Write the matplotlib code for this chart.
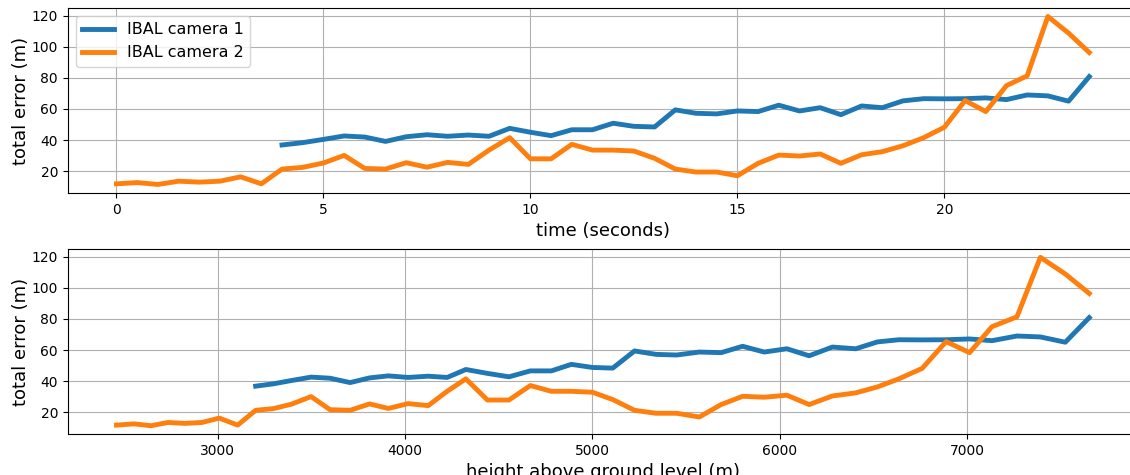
import matplotlib
matplotlib.use('Agg')
import matplotlib.pyplot as plt

# time stamps (s) and height above ground (m) for each frame
time_s = [i * 0.5 for i in range(48)]
height_m = [2460, 2553, 2644, 2735, 2826, 2917, 3009, 3107, 3203, 3298,
            3393, 3499, 3600, 3707, 3811, 3911, 4017, 4124, 4225, 4325,
            4440, 4555, 4669, 4781, 4888, 5000, 5109, 5225, 5340, 5450,
            5571, 5687, 5802, 5917, 6038, 6157, 6281, 6406, 6521, 6636,
            6760, 6888, 7013, 7133, 7266, 7391, 7524, 7652]

# camera 1 only starts at t = 4 s (frame 8)
cam1_start = 8
cam1_err = [36.8, 38.3, 40.4, 42.6, 41.9, 39.1, 42.1, 43.4, 42.4, 43.2,
            42.4, 47.5, 45.0, 42.8, 46.6, 46.6, 50.8, 48.8, 48.4, 59.4,
            57.2, 56.8, 58.7, 58.3, 62.4, 58.7, 60.8, 56.3, 61.9, 60.8,
            65.2, 66.6, 66.5, 66.6, 67.1, 66.0, 69.0, 68.4, 65.0, 80.8]
cam2_err = [11.8, 12.6, 11.4, 13.5, 12.9, 13.5, 16.3, 11.8, 21.3, 22.4,
            25.2, 30.1, 21.7, 21.3, 25.4, 22.5, 25.6, 24.3, 33.5, 41.5,
            27.9, 27.9, 37.2, 33.5, 33.5, 32.9, 28.2, 21.3, 19.4, 19.4,
            17.0, 25.0, 30.3, 29.7, 31.0, 25.0, 30.5, 32.5, 36.3, 41.5,
            48.2, 65.4, 58.3, 75.0, 81.3, 119.5, 108.8, 96.3]

fig = plt.figure(figsize=(11.3, 4.75), dpi=100)
ax1 = fig.add_axes([0.060, 0.594, 0.947, 0.389])
ax2 = fig.add_axes([0.060, 0.086, 0.947, 0.390])

lw = 3.5
ax1.plot(time_s[cam1_start:], cam1_err, color='#1f77b4', lw=lw, label='IBAL camera 1')
ax1.plot(time_s, cam2_err, color='#ff7f0e', lw=lw, label='IBAL camera 2')
ax1.set_xlabel('time (seconds)', fontsize=13)
ax1.set_ylabel('total error (m)', fontsize=13, labelpad=1.5)
ax1.legend(loc='upper left', fontsize=11.5)
ax1.grid(True)

ax2.plot(height_m[cam1_start:], cam1_err, color='#1f77b4', lw=lw)
ax2.plot(height_m, cam2_err, color='#ff7f0e', lw=lw)
ax2.set_xlabel('height above ground level (m)', fontsize=13)
ax2.set_ylabel('total error (m)', fontsize=13, labelpad=1.5)
ax2.grid(True)

for ax in (ax1, ax2):
    ax.set_yticks([20, 40, 60, 80, 100, 120])
    ax.tick_params(labelsize=10)

fig.savefig('out.png', dpi=100)
